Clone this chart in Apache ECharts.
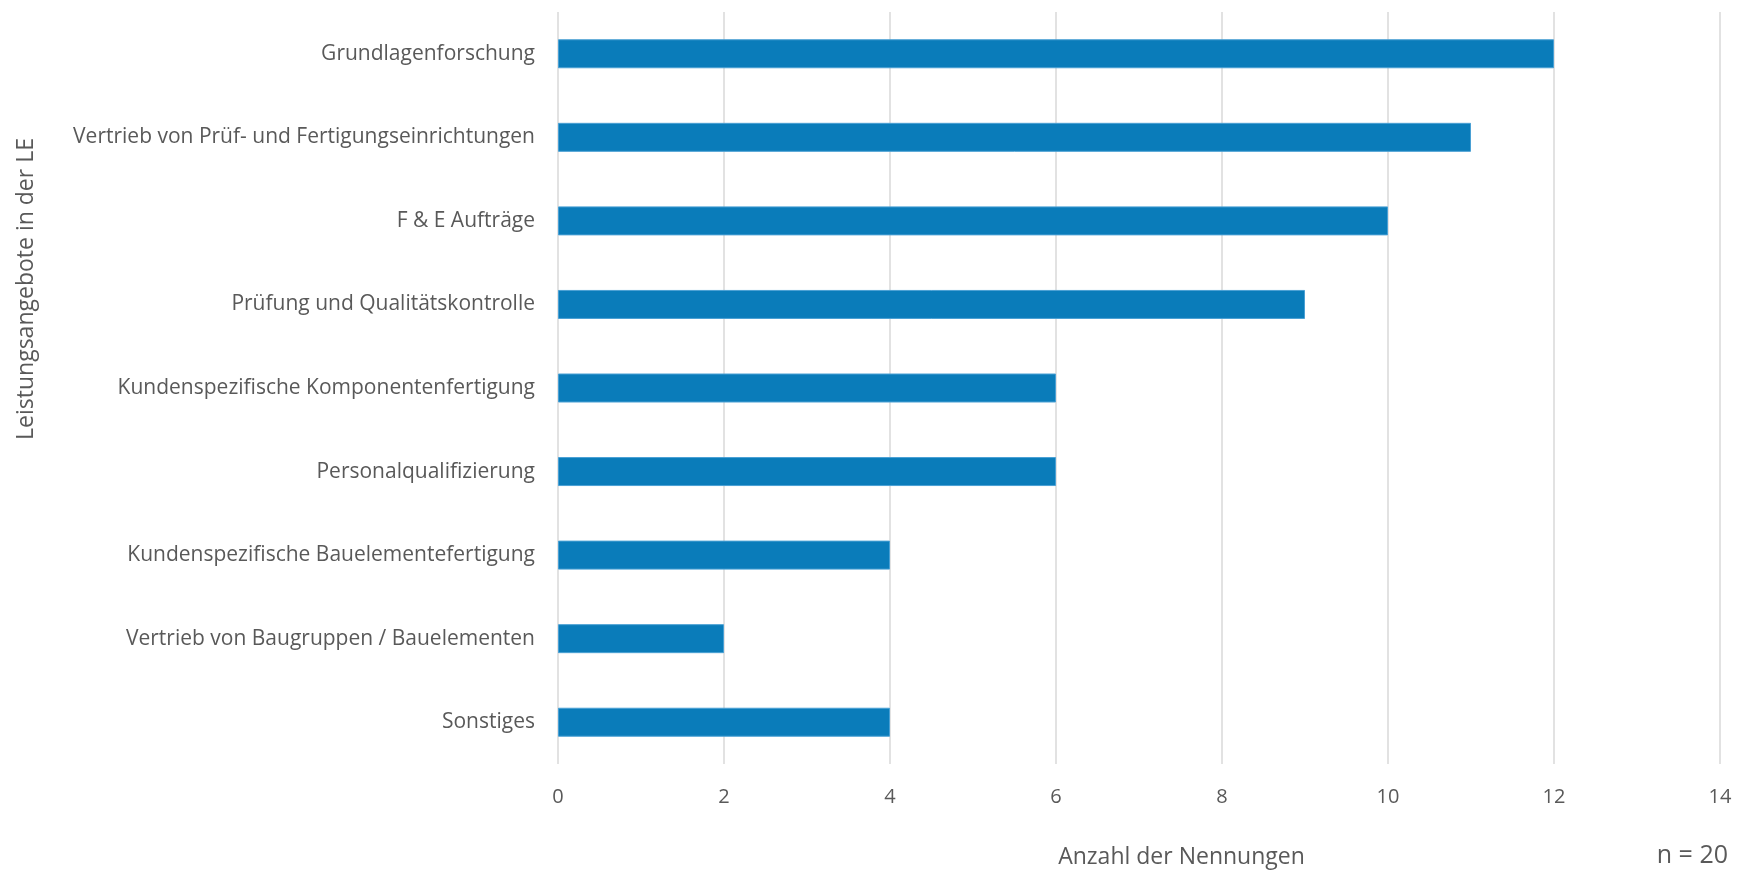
<!DOCTYPE html>
<html>
<head>
<meta charset="utf-8">
<script src="https://cdn.jsdelivr.net/npm/echarts@6/dist/echarts.min.js"></script>
<style>
  html, body { margin: 0; padding: 0; background: #ffffff; }
  #chart { width: 1742px; height: 875px; }
</style>
</head>
<body>
<div id="chart"></div>
<script>
// Service offerings, listed top to bottom as shown
const categories = [
  'Grundlagenforschung',
  'Vertrieb von Prüf- und Fertigungseinrichtungen',
  'F & E Aufträge',
  'Prüfung und Qualitätskontrolle',
  'Kundenspezifische Komponentenfertigung',
  'Personalqualifizierung',
  'Kundenspezifische Bauelementefertigung',
  'Vertrieb von Baugruppen / Bauelementen',
  'Sonstiges'
];
// Number of mentions per offering
const mentions = [12, 11, 10, 9, 6, 6, 4, 2, 4];

const xAxisName = 'Anzahl der Nennungen';
const yAxisName = 'Leistungsangebote in der LE';
const sampleNote = 'n = 20';

const FONT = '"Open Sans", "Noto Sans", sans-serif';
const TEXT = '#595959';

const chart = echarts.init(document.getElementById('chart'), null, { renderer: 'canvas' });
chart.setOption({
  animation: false,
  backgroundColor: '#ffffff',
  textStyle: { fontFamily: FONT, color: TEXT },
  grid: { left: 558, right: 22, top: 12, bottom: 111, containLabel: false },
  xAxis: {
    type: 'value',
    min: 0,
    max: 14,
    interval: 2,
    name: xAxisName,
    nameLocation: 'middle',
    nameGap: 82,
    nameTextStyle: { fontFamily: FONT, fontSize: 23, color: TEXT, padding: [0, 0, 0, 85] },
    axisLine: { show: false },
    axisTick: { show: false },
    axisLabel: { fontFamily: FONT, fontSize: 20, color: TEXT, margin: 23 },
    splitLine: { show: true, lineStyle: { color: '#d9d9d9', width: 1.5 } }
  },
  yAxis: {
    type: 'category',
    inverse: true,
    data: categories,
    name: yAxisName,
    nameLocation: 'middle',
    nameRotate: 90,
    nameGap: 520,
    nameTextStyle: { fontFamily: FONT, fontSize: 23, color: TEXT, padding: [0, 0, 0, 198] },
    axisLine: { show: false },
    axisTick: { show: false },
    axisLabel: { fontFamily: FONT, fontSize: 21, color: TEXT, margin: 23 }
  },
  series: [{
    type: 'bar',
    data: mentions,
    barWidth: 29,
    itemStyle: { color: '#0a7cba', borderColor: '#4aa0d4', borderWidth: 1 }
  }],
  graphic: [{
    type: 'text',
    right: 14,
    top: 843,
    style: { text: sampleNote, font: '25px ' + FONT, fill: TEXT }
  }]
});
</script>
</body>
</html>
